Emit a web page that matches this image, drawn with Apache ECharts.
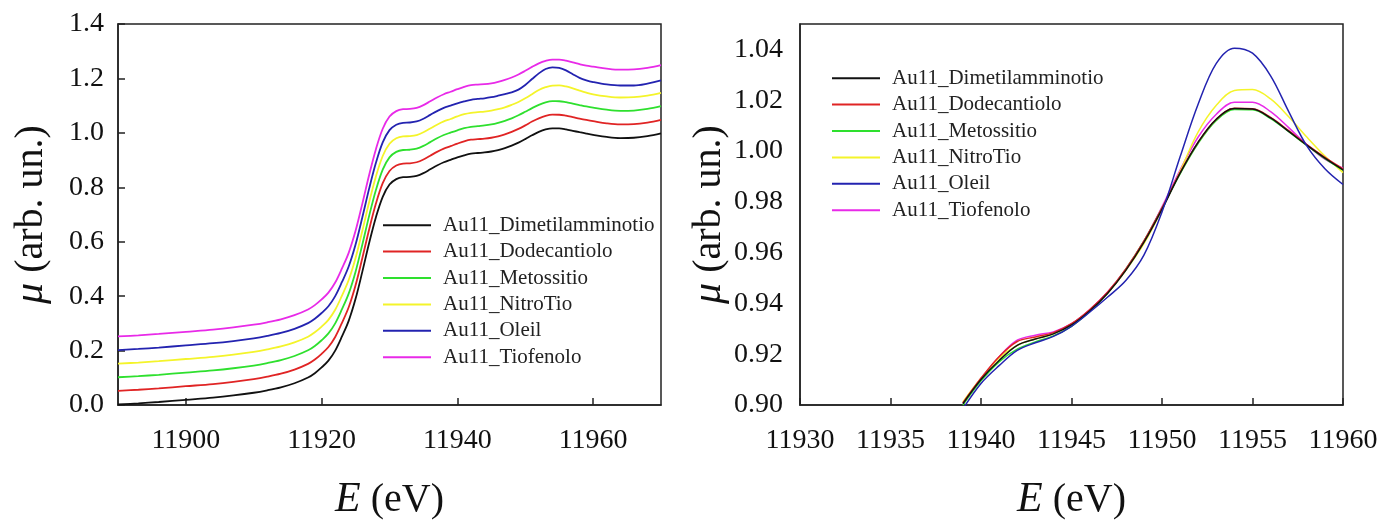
<!DOCTYPE html>
<html>
<head>
<meta charset="utf-8">
<script src="https://cdn.jsdelivr.net/npm/echarts@6/dist/echarts.min.js"></script>
<style>html,body{margin:0;padding:0;background:#fff;}#c{width:1384px;height:526px;}</style>
</head>
<body>
<div id="c"></div>
<script>
// ---------- DATA ----------
const seriesNames = ['Au11_Dimetilamminotio','Au11_Dodecantiolo','Au11_Metossitio','Au11_NitroTio','Au11_Oleil','Au11_Tiofenolo'];
const seriesColors = ['#111111','#e02424','#2ee02e','#f4f42a','#2323b0','#e82ae8'];

// Left panel (offset spectra)
const leftE = [11890,11893,11896,11900,11904,11907,11910,11912,11914,11916,11918,11919,11920,11921,11922,11923,11924,11925,11926,11927,11928,11929,11930,11931,11932,11933,11934,11935,11936,11937,11938,11939,11940,11941,11942,11943,11944,11945,11946,11947,11948,11949,11950,11951,11952,11953,11954,11955,11956,11957,11958,11959,11960,11962,11964,11966,11968,11970];
const leftDimetilamminotio = [0.002,0.006,0.011,0.019,0.027,0.035,0.045,0.054,0.065,0.080,0.101,0.117,0.138,0.163,0.200,0.252,0.310,0.390,0.490,0.595,0.690,0.765,0.810,0.830,0.837,0.838,0.842,0.852,0.866,0.880,0.892,0.901,0.910,0.9175,0.9235,0.926,0.928,0.9315,0.937,0.944,0.953,0.964,0.977,0.991,1.0035,1.0125,1.0167,1.0165,1.013,1.0077,1.0023,0.9972,0.9926,0.985,0.981,0.982,0.988,0.998];
const leftDodecantiolo = [0.052,0.056,0.061,0.069,0.077,0.085,0.095,0.104,0.115,0.130,0.151,0.167,0.188,0.213,0.250,0.302,0.360,0.440,0.540,0.645,0.740,0.815,0.860,0.880,0.887,0.888,0.892,0.902,0.916,0.930,0.942,0.951,0.9605,0.969,0.975,0.9768,0.9785,0.982,0.9875,0.9945,1.0035,1.0145,1.0275,1.0415,1.0535,1.0625,1.0668,1.0666,1.0632,1.058,1.0525,1.0475,1.043,1.035,1.031,1.032,1.038,1.048];
const leftMetossitio = [0.102,0.106,0.111,0.119,0.127,0.135,0.145,0.154,0.165,0.180,0.201,0.217,0.238,0.263,0.300,0.352,0.410,0.490,0.590,0.695,0.790,0.865,0.910,0.930,0.937,0.938,0.942,0.952,0.966,0.980,0.992,1.001,1.0095,1.017,1.022,1.0248,1.0272,1.031,1.0368,1.0442,1.0535,1.0645,1.0775,1.091,1.103,1.112,1.1163,1.1162,1.1128,1.1076,1.1022,1.097,1.0925,1.085,1.081,1.082,1.088,1.098];
const leftNitroTio = [0.152,0.156,0.161,0.169,0.177,0.185,0.195,0.204,0.215,0.230,0.251,0.267,0.288,0.313,0.350,0.402,0.460,0.540,0.640,0.745,0.840,0.915,0.960,0.980,0.987,0.988,0.992,1.002,1.016,1.030,1.042,1.051,1.0605,1.0685,1.0735,1.076,1.078,1.0815,1.087,1.094,1.103,1.1135,1.127,1.142,1.1575,1.168,1.1738,1.1742,1.1705,1.1635,1.1555,1.148,1.1415,1.134,1.130,1.131,1.137,1.147];
const leftOleil = [0.202,0.206,0.211,0.219,0.227,0.235,0.245,0.254,0.265,0.280,0.301,0.317,0.338,0.363,0.400,0.452,0.510,0.590,0.690,0.795,0.890,0.965,1.010,1.030,1.037,1.038,1.042,1.052,1.066,1.080,1.092,1.100,1.1085,1.1155,1.1215,1.1245,1.127,1.131,1.1365,1.1425,1.149,1.159,1.176,1.1977,1.2185,1.2345,1.2405,1.2385,1.2296,1.2155,1.202,1.193,1.1868,1.178,1.174,1.174,1.181,1.193];
const leftTiofenolo = [0.252,0.256,0.261,0.269,0.277,0.285,0.295,0.304,0.315,0.330,0.351,0.367,0.388,0.413,0.450,0.502,0.560,0.640,0.740,0.845,0.940,1.015,1.060,1.080,1.087,1.088,1.092,1.102,1.116,1.130,1.142,1.151,1.1605,1.169,1.1755,1.1775,1.1788,1.182,1.1875,1.1945,1.2035,1.2145,1.228,1.2425,1.2555,1.2645,1.2692,1.2692,1.2655,1.2592,1.2525,1.2468,1.2432,1.236,1.232,1.233,1.239,1.249];

// Right panel (zoom, no offset)
const rightE = [11939,11940,11941,11942,11943,11944,11945,11946,11947,11948,11949,11950,11951,11952,11953,11954,11955,11956,11957,11958,11959,11960];
const rightDimetilamminotio = [0.9005,0.910,0.9175,0.9235,0.926,0.928,0.9315,0.937,0.944,0.953,0.964,0.977,0.9913,1.0035,1.0125,1.0167,1.0165,1.013,1.0077,1.0023,0.9972,0.9926];
const rightDodecantiolo = [0.9008,0.9105,0.919,0.925,0.9268,0.9285,0.932,0.9375,0.9445,0.9535,0.9645,0.9775,0.9915,1.0035,1.0125,1.0168,1.0166,1.0132,1.008,1.0025,0.9975,0.993];
const rightMetossitio = [0.9,0.9095,0.917,0.922,0.9248,0.9272,0.931,0.9368,0.9442,0.9535,0.9645,0.9775,0.991,1.003,1.012,1.0163,1.0162,1.0128,1.0076,1.0022,0.997,0.9925];
const rightNitroTio = [0.9012,0.9105,0.9185,0.9235,0.926,0.928,0.9315,0.937,0.944,0.953,0.9635,0.977,0.992,1.0075,1.018,1.0238,1.0242,1.0205,1.0135,1.0055,0.998,0.9915];
const rightOleil = [0.8985,0.9085,0.9155,0.9215,0.9245,0.927,0.931,0.9365,0.9425,0.949,0.959,0.976,0.9977,1.0185,1.0345,1.0405,1.0385,1.0296,1.0155,1.002,0.993,0.9868];
const rightTiofenolo = [0.9008,0.9105,0.919,0.9255,0.9275,0.9288,0.932,0.9375,0.9445,0.9535,0.9645,0.978,0.9925,1.0055,1.0145,1.0192,1.0192,1.0155,1.0092,1.0025,0.9968,0.9932];

const leftTicks = {min: 11890, max: 11970};
const rightTicks = {min: 11930, max: 11960, interval: 5};

// ---------- CHART ----------
const leftSets = [leftDimetilamminotio, leftDodecantiolo, leftMetossitio, leftNitroTio, leftOleil, leftTiofenolo];
const rightSets = [rightDimetilamminotio, rightDodecantiolo, rightMetossitio, rightNitroTio, rightOleil, rightTiofenolo];
const FONT = '"Liberation Serif", "Times New Roman", serif';
const pair = (xs, ys) => xs.map((x, i) => [x, ys[i]]);

const series = [];
seriesNames.forEach((n, i) => {
  series.push({name: n, type: 'line', xAxisIndex: 0, yAxisIndex: 0, data: pair(leftE, leftSets[i]),
    showSymbol: false, smooth: 0.35, lineStyle: {color: seriesColors[i], width: 1.8}, itemStyle: {color: seriesColors[i]}, z: 10 - i});
});
seriesNames.forEach((n, i) => {
  series.push({name: n, type: 'line', xAxisIndex: 1, yAxisIndex: 1, data: pair(rightE, rightSets[i]),
    showSymbol: false, smooth: 0.35, lineStyle: {color: seriesColors[i], width: 1.5}, itemStyle: {color: seriesColors[i]}, z: i === 4 ? 12 : 10 - i});
});

const nameRich = {
  i: {fontFamily: FONT, fontStyle: 'italic', fontSize: 42, color: '#111'},
  n: {fontFamily: FONT, fontSize: 40, color: '#111'}
};
const axisLine = {show: true, lineStyle: {color: '#222', width: 1.5}};
const labelStyle = {fontFamily: FONT, fontSize: 28, color: '#111'};

const legendBase = {
  data: seriesNames, orient: 'vertical', icon: 'rect', itemWidth: 48, itemHeight: 2, itemGap: 0,
  selectedMode: false, padding: 0,
  textStyle: {fontFamily: FONT, fontSize: 21, color: '#222', lineHeight: 26.4, padding: [0, 0, 0, 7]}
};

const option = {
  animation: false,
  backgroundColor: '#fff',
  grid: [
    {left: 118, right: 723, top: 24, bottom: 110, show: true, borderColor: '#222', borderWidth: 1.5},
    {left: 800, right: 41, top: 24, bottom: 111, show: true, borderColor: '#222', borderWidth: 1.5}
  ],
  legend: [
    Object.assign({}, legendBase, {left: 383, top: 212}),
    Object.assign({}, legendBase, {left: 832, top: 65})
  ],
  xAxis: [
    {type: 'value', gridIndex: 0, min: leftTicks.min, max: leftTicks.max, splitNumber: 4,
      axisLine: axisLine, axisTick: {inside: true, length: 7, lineStyle: {color: '#222', width: 1.5}},
      axisLabel: Object.assign({margin: 22, showMinLabel: false, showMaxLabel: false, formatter: v => String(v)}, labelStyle),
      splitLine: {show: false},
      name: '{i|E}{n| (eV)}', nameLocation: 'middle', nameGap: 74, nameTextStyle: {rich: nameRich}},
    {type: 'value', gridIndex: 1, min: rightTicks.min, max: rightTicks.max, interval: rightTicks.interval,
      axisLine: axisLine, axisTick: {inside: true, length: 7, lineStyle: {color: '#222', width: 1.5}},
      axisLabel: Object.assign({margin: 22, formatter: v => String(v)}, labelStyle),
      splitLine: {show: false},
      name: '{i|E}{n| (eV)}', nameLocation: 'middle', nameGap: 74, nameTextStyle: {rich: nameRich}}
  ],
  yAxis: [
    {type: 'value', gridIndex: 0, min: 0, max: 1.4, interval: 0.2,
      axisLine: axisLine, axisTick: {inside: true, length: 7, lineStyle: {color: '#222', width: 1.5}},
      axisLabel: Object.assign({margin: 14, formatter: v => v.toFixed(1)}, labelStyle),
      splitLine: {show: false},
      name: '{i|μ}{n| (arb. un.)}', nameLocation: 'middle', nameGap: 66, nameRotate: 90, nameTextStyle: {rich: nameRich}},
    {type: 'value', gridIndex: 1, min: 0.90, max: 1.05, interval: 0.02,
      axisLine: axisLine, axisTick: {show: false},
      axisLabel: Object.assign({margin: 17, showMaxLabel: false, formatter: v => v.toFixed(2)}, labelStyle),
      splitLine: {show: false},
      name: '{i|μ}{n| (arb. un.)}', nameLocation: 'middle', nameGap: 66, nameRotate: 90, nameTextStyle: {rich: nameRich}}
  ],
  series: series
};

const chart = echarts.init(document.getElementById('c'), null, {renderer: 'canvas'});
chart.setOption(option);
</script>
</body>
</html>
